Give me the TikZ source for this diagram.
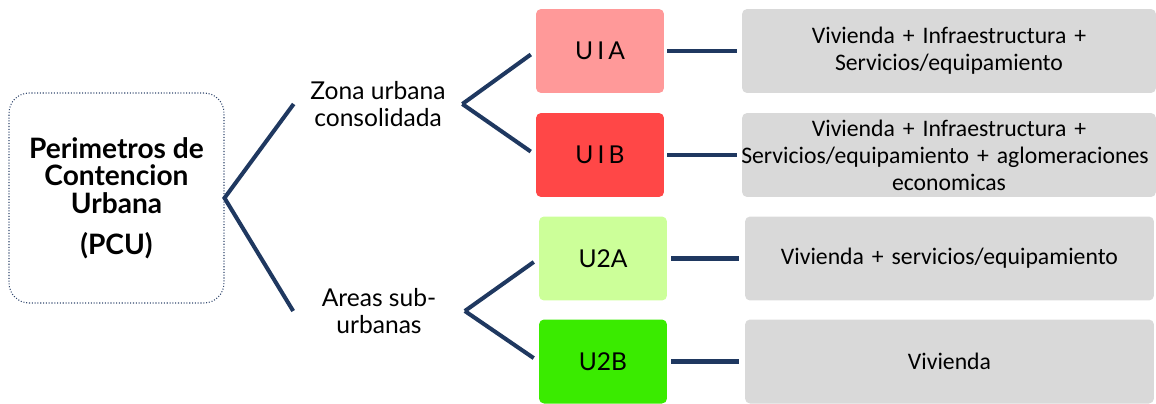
\documentclass[tikz,border=0pt]{standalone}
\usepackage{fontspec}
\setmainfont{Lato}
\newfontfamily\calibri{Carlito}
\usepackage{tikz}
\usetikzlibrary{positioning}
\definecolor{AzulLinea}{RGB}{31,56,96}
\definecolor{GrisBorde}{RGB}{50,72,110}
\definecolor{RosaUA}{RGB}{255,153,153}
\definecolor{RojoUB}{RGB}{255,71,71}
\definecolor{VerdeClaro}{RGB}{204,255,153}
\definecolor{VerdeFuerte}{RGB}{58,235,0}
\definecolor{GrisCaja}{RGB}{217,217,217}

\begin{document}
\begin{tikzpicture}[x=0.02cm, y=-0.02cm,
    linea/.style={line width=2.3pt, AzulLinea},
    zona/.style={align=center, inner sep=0pt, font=\fontsize{14}{15.4}\selectfont},
    ucaja/.style={rounded corners=0.1cm, minimum width=2.56cm, minimum height=1.68cm,
        font=\fontsize{14}{15}\selectfont},
    gcaja/.style={fill=GrisCaja, rounded corners=0.1cm, inner xsep=0pt, minimum height=1.68cm,
        align=center, font=\calibri\fontsize{13.5}{15.4}\selectfont}]
    \useasboundingbox (0,0) rectangle (1156,403);

    \node[draw=GrisBorde, densely dotted, line width=0.6pt, rounded corners=0.4cm,
        minimum width=4.3cm, minimum height=4.2cm, align=center,
        font=\bfseries\fontsize{16}{15.6}\selectfont] (pcu) at (116.5,198)
        {Perimetros de\\Contencion\\Urbana\\[7.7pt](PCU)};

    \node[zona, minimum width=3.36cm] (zona) at (378,104) {Zona urbana\\consolidada};
    \node[zona, minimum width=3.42cm] (areas) at (379,311) {Areas sub-\\urbanas};

    \node[ucaja, fill=RosaUA] (u1a) at (600,51) {U\,I\,A};
    \node[ucaja, fill=RojoUB] (u1b) at (600,155) {U\,I\,B};
    \node[ucaja, fill=VerdeClaro] (u2a) at (603,258.5) {U2A};
    \node[ucaja, fill=VerdeFuerte] (u2b) at (603,361.5) {U2B};

    \node[gcaja, text width=8.28cm] (g1a) at (949,51)
        {Vivienda + Infraestructura +\\Servicios/equipamiento};
    \node[gcaja, text width=8.28cm] (g1b) at (949,155)
        {Vivienda + Infraestructura +\\\makebox[\linewidth]{\hspace*{-0.16cm}Servicios/equipamiento + aglomeraciones}\\economicas};
    \node[gcaja, text width=8.18cm] (g2a) at (949.5,258.5) {Vivienda + servicios/equipamiento};
    \node[gcaja, text width=8.18cm] (g2b) at (949.5,361.5) {Vivienda};

    \draw[linea] (zona.west) -- (pcu.east) -- (areas.west);
    \draw[linea, shorten >=0.12cm] (zona.east) -- (u1a.west);
    \draw[linea, shorten >=0.12cm] (zona.east) -- (u1b.west);
    \draw[linea, shorten >=0.12cm] (areas.east) -- (u2a.west);
    \draw[linea, shorten >=0.12cm] (areas.east) -- (u2b.west);

    \draw[linea, shorten <=0.06cm, shorten >=0.1cm] (u1a) -- (g1a);
    \draw[linea, shorten <=0.06cm, shorten >=0.1cm] (u1b) -- (g1b);
    \draw[linea, shorten <=0.08cm, shorten >=0.12cm] (u2a) -- (g2a);
    \draw[linea, shorten <=0.08cm, shorten >=0.12cm] (u2b) -- (g2b);
\end{tikzpicture}
\end{document}
